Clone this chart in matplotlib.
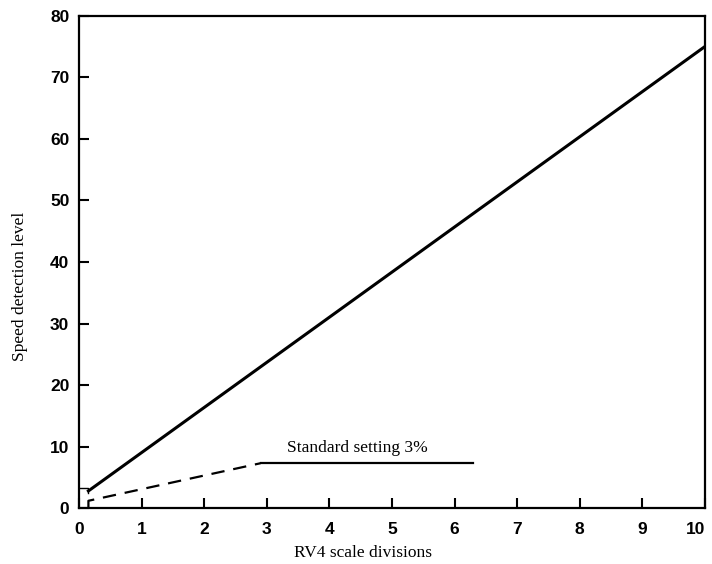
import matplotlib
matplotlib.use("Agg")
import matplotlib.pyplot as plt

# values
level_x = [0.15, 10.0]
level_y = [2.8, 75.0]
dash_x = [0.15, 0.15, 2.9]
dash_y = [0.0, 1.2, 7.3]
std_x = [2.9, 6.3]
std_y = [7.3, 7.3]
stub_x = [0.0, 0.15, 0.15]
stub_y = [3.2, 3.2, 2.4]
xticks = list(range(0, 11))
yticks = list(range(0, 81, 10))

plt.rcParams["font.family"] = ["Liberation Serif", "DejaVu Serif"]

fig = plt.figure(figsize=(7.12, 5.64), dpi=100)
ax = fig.add_axes([0.111, 0.099, 0.879, 0.873])

ax.plot(level_x, level_y, color="black", lw=2.2)
ax.plot(dash_x, dash_y, color="black", lw=1.6, ls=(0, (6, 4)))
ax.plot(std_x, std_y, color="black", lw=1.6)
ax.plot(stub_x, stub_y, color="black", lw=1.0)
ax.text(4.45, 8.4, "Standard setting 3%", ha="center", va="bottom", fontsize=12.5)

ax.set_xlim(0, 10)
ax.set_ylim(0, 80)
ax.set_xticks(xticks)
ax.set_yticks(yticks)
ax.tick_params(direction="in", length=7, width=1.5)
ax.tick_params(axis="x", pad=10)
ax.tick_params(axis="y", pad=7)
for lbl in ax.get_xticklabels() + ax.get_yticklabels():
    lbl.set_family(["Liberation Sans", "DejaVu Sans"])
    lbl.set_fontweight("bold")
    lbl.set_fontsize(12.5)
ax.get_xticklabels()[-1].set_horizontalalignment("right")
for s in ax.spines.values():
    s.set_linewidth(1.6)

ax.set_xlabel("RV4 scale divisions", fontsize=12.5, labelpad=6)
ax.set_ylabel("Speed detection level", fontsize=12.5, labelpad=12)
ax.xaxis.set_label_coords(0.454, -0.075)
ax.yaxis.set_label_coords(-0.081, 0.451)

fig.savefig("out.png", dpi=100, facecolor="white")
